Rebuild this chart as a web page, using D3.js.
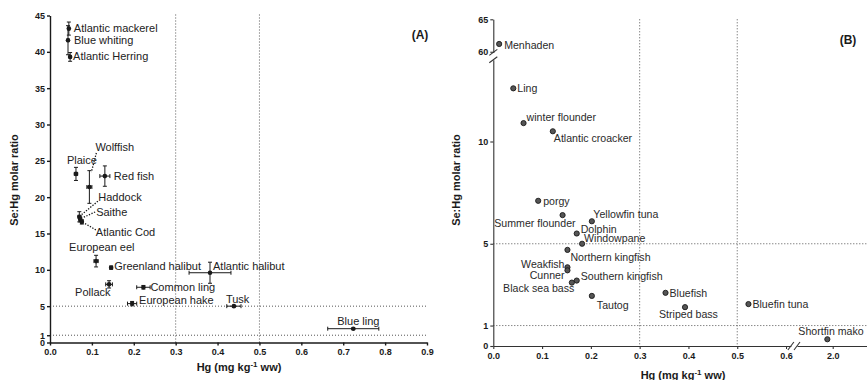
<!DOCTYPE html>
<html>
<head>
<meta charset="utf-8">
<script src="https://cdn.jsdelivr.net/npm/d3@7"></script>
<style>
  body { margin: 0; background: #fff; }
  text { font-family: "Liberation Sans", Arial, sans-serif; }
</style>
</head>
<body>
<svg id="chart" width="867" height="380"></svg>
<script>
// ---- Panel A: North-Atlantic fish, mean ± SD ----
const speciesA = ["Atlantic mackerel", "Blue whiting", "Atlantic Herring", "Plaice", "Wolffish", "Red fish",
  "Haddock", "Saithe", "Atlantic Cod", "European eel", "Greenland halibut", "Pollack", "Common ling",
  "European hake", "Atlantic halibut", "Tusk", "Blue ling"];
const hgA =      [0.045, 0.043, 0.048, 0.062, 0.094, 0.131, 0.070, 0.072, 0.076, 0.110, 0.146, 0.141, 0.223, 0.196, 0.382, 0.439, 0.724];
const hgErrA =   [0.002, 0.002, 0.002, 0.004, 0.006, 0.012, 0.003, 0.003, 0.003, 0.005, 0.003, 0.008, 0.016, 0.011, 0.050, 0.017, 0.061];
const ratioA =   [43.2, 41.6, 39.3, 23.2, 21.4, 22.9, 17.3, 17.0, 16.6, 11.2, 10.3, 8.0, 7.6, 5.35, 9.6, 5.0, 1.9];
const ratioErrA = [0.9, 2.0, 0.6, 0.9, 2.25, 1.4, 0.7, 0.4, 0.3, 0.8, 0.2, 0.5, 0.25, 0.3, 1.45, 0.1, 0.1];

// ---- Panel B: US East-coast fish, means ----
const speciesB = ["Menhaden", "Ling", "winter flounder", "Atlantic croacker", "porgy", "Summer flounder",
  "Yellowfin tuna", "Dolphin", "Windowpane", "Northern kingfish", "Weakfish", "Cunner", "Southern kingfish",
  "Black sea bass", "Tautog", "Bluefish", "Striped bass", "Bluefin tuna", "Shortfin mako"];
const hgB =    [0.012, 0.041, 0.062, 0.122, 0.092, 0.142, 0.202, 0.171, 0.182, 0.152, 0.152, 0.152, 0.171, 0.161, 0.202, 0.353, 0.393, 0.523, 1.94];
const ratioB = [61.2, 12.6, 10.9, 10.5, 7.1, 6.4, 6.1, 5.5, 5.0, 4.7, 3.85, 3.7, 3.2, 3.1, 2.45, 2.6, 1.9, 2.05, 0.33];

// ---- Axis ticks and reference lines ----
const xTicksA = [0, 0.1, 0.2, 0.3, 0.4, 0.5, 0.6, 0.7, 0.8, 0.9];
const yTicksA = [0, 1, 5, 10, 15, 20, 25, 30, 35, 40, 45];
const xTicksBLow = [0, 0.1, 0.2, 0.3, 0.4, 0.5, 0.6];
const xTicksBHigh = [2.0];
const yTicksBLow = [0, 1, 5, 10];
const yTicksBHigh = [60, 65];
const refHg = [0.3, 0.5];
const refRatio = [1, 5];

// Label placement (offset from the point, in px; anchor)
const labelPosA = {
  "Atlantic mackerel": [5, -1, "start"], "Blue whiting": [6, 0, "start"], "Atlantic Herring": [3, -1, "start"],
  "Plaice": [-9, -14, "start"], "Wolffish": [6, -40, "start"], "Red fish": [9, 0, "start"],
  "Haddock": [19, -19.5, "start"], "Saithe": [16, -7, "start"], "Atlantic Cod": [14, 10.5, "start"],
  "European eel": [-27, -14, "start"], "Greenland halibut": [3, -1.5, "start"], "Pollack": [-34, 8, "start"],
  "Common ling": [7, 0, "start"], "European hake": [7, -3.5, "start"], "Atlantic halibut": [3, -7, "start"],
  "Tusk": [-8, -7, "start"], "Blue ling": [-16, -8, "start"]
};
// Dotted leaders: [start dx, start dy, end dx, end dy] relative to the point
const leadersA = {
  "Wolffish": [7, -34, 2, -15], "Haddock": [18.5, -15.5, 2, -2],
  "Saithe": [15, -7, 2, -1], "Atlantic Cod": [14, 8, 2, 1]
};
const labelPosB = {
  "Menhaden": [5, 1, "start"], "Ling": [4, 0, "start"], "winter flounder": [3, -6, "start"],
  "Atlantic croacker": [1, 6.5, "start"], "porgy": [5, 0.5, "start"], "Summer flounder": [13, 8.5, "end"],
  "Yellowfin tuna": [1.5, -7, "start"], "Dolphin": [4, -4, "start"], "Windowpane": [2, -5.5, "start"],
  "Northern kingfish": [3, 7, "start"], "Weakfish": [-3, -3, "end"], "Cunner": [-3, 5, "end"],
  "Southern kingfish": [4, -4, "start"], "Black sea bass": [2.5, 6, "end"], "Tautog": [5, 9, "start"],
  "Bluefish": [4, 0, "start"], "Striped bass": [-26, 7, "start"], "Bluefin tuna": [4, 0.3, "start"],
  "Shortfin mako": [-29, -8, "start"]
};

const svg = d3.select("#chart");
const fmt = d3.format(".1f");
const dotted = "1,2";
const ink = "#1a1a1a";

function styleAxis(g, w) {
  g.select(".domain").attr("stroke", ink).attr("stroke-width", w);
  g.selectAll(".tick line").attr("stroke", ink).attr("stroke-width", w);
  g.selectAll(".tick text").attr("fill", ink).attr("font-size", 9).attr("font-weight", "bold")
    .attr("font-family", "'Liberation Sans', Arial, sans-serif");
}

function xTitle(g, cx, y) {
  const t = g.append("text").attr("x", cx).attr("y", y).attr("text-anchor", "middle")
    .attr("font-size", 11).attr("font-weight", "bold").attr("fill", ink);
  t.append("tspan").text("Hg (mg kg");
  t.append("tspan").attr("dy", -4).attr("font-size", 8).text("-1");
  t.append("tspan").attr("dy", 4).text(" ww)");
}
function yTitle(g, x, cy) {
  g.append("text").attr("transform", `translate(${x},${cy}) rotate(-90)`).attr("text-anchor", "middle")
    .attr("font-size", 11).attr("font-weight", "bold").attr("fill", ink).text("Se:Hg molar ratio");
}

// =============== Panel A ===============
const xA = d3.scaleLinear().domain([0, 0.9]).range([50, 427]);
const yA = d3.scaleLinear().domain([0, 45]).range([342.5, 15.5]);
const gA = svg.append("g");

// reference lines
gA.selectAll(".vref").data(refHg).join("line")
  .attr("x1", d => xA(d)).attr("x2", d => xA(d)).attr("y1", yA(45) - 1).attr("y2", yA(0))
  .attr("stroke", "#555").attr("stroke-dasharray", dotted).attr("stroke-width", 1);
gA.selectAll(".href").data(refRatio).join("line")
  .attr("x1", xA(0)).attr("x2", xA(0.9)).attr("y1", d => yA(d)).attr("y2", d => yA(d))
  .attr("stroke", "#555").attr("stroke-dasharray", dotted).attr("stroke-width", 1);

gA.append("g").attr("transform", `translate(0,${yA(0)})`)
  .call(d3.axisBottom(xA).tickValues(xTicksA).tickFormat(fmt).tickSize(3).tickSizeOuter(0).tickPadding(3))
  .call(g => styleAxis(g, 1.4));
gA.append("g").attr("transform", `translate(${xA(0)},0)`)
  .call(d3.axisLeft(yA).tickValues(yTicksA).tickFormat(d3.format("d")).tickSize(3).tickSizeOuter(0).tickPadding(2))
  .call(g => styleAxis(g, 1.4));

xTitle(gA, 239, 371);
yTitle(gA, 18, 180);
gA.append("text").attr("x", 420).attr("y", 39).attr("text-anchor", "middle")
  .attr("font-size", 12).attr("font-weight", "bold").attr("fill", ink).text("(A)");

const dataA = speciesA.map((s, i) => ({ s, hg: hgA[i], he: hgErrA[i], r: ratioA[i], re: ratioErrA[i] }));

// leaders
gA.selectAll(".leader").data(dataA.filter(d => leadersA[d.s])).join("line")
  .attr("x1", d => xA(d.hg) + leadersA[d.s][0]).attr("y1", d => yA(d.r) + leadersA[d.s][1])
  .attr("x2", d => xA(d.hg) + leadersA[d.s][2]).attr("y2", d => yA(d.r) + leadersA[d.s][3])
  .attr("stroke", "#111").attr("stroke-width", 1.3).attr("stroke-dasharray", "1.3,1.5");

// error bars
const eb = gA.selectAll(".eb").data(dataA).join("g").attr("stroke", ink).attr("stroke-width", 1);
eb.append("line").attr("x1", d => xA(d.hg)).attr("x2", d => xA(d.hg))
  .attr("y1", d => yA(d.r - d.re)).attr("y2", d => yA(d.r + d.re));
eb.append("line").attr("x1", d => xA(d.hg) - 2).attr("x2", d => xA(d.hg) + 2)
  .attr("y1", d => yA(d.r + d.re)).attr("y2", d => yA(d.r + d.re));
eb.append("line").attr("x1", d => xA(d.hg) - 2).attr("x2", d => xA(d.hg) + 2)
  .attr("y1", d => yA(d.r - d.re)).attr("y2", d => yA(d.r - d.re));
eb.append("line").attr("x1", d => xA(d.hg - d.he)).attr("x2", d => xA(d.hg + d.he))
  .attr("y1", d => yA(d.r)).attr("y2", d => yA(d.r));
eb.append("line").attr("x1", d => xA(d.hg - d.he)).attr("x2", d => xA(d.hg - d.he))
  .attr("y1", d => yA(d.r) - 2).attr("y2", d => yA(d.r) + 2);
eb.append("line").attr("x1", d => xA(d.hg + d.he)).attr("x2", d => xA(d.hg + d.he))
  .attr("y1", d => yA(d.r) - 2).attr("y2", d => yA(d.r) + 2);

gA.selectAll(".pt").data(dataA).join("circle")
  .attr("cx", d => xA(d.hg)).attr("cy", d => yA(d.r)).attr("r", 2.3).attr("fill", ink);

gA.selectAll(".lab").data(dataA).join("text")
  .attr("x", d => xA(d.hg) + labelPosA[d.s][0]).attr("y", d => yA(d.r) + labelPosA[d.s][1] + 4)
  .attr("text-anchor", d => labelPosA[d.s][2])
  .attr("font-size", 11).attr("fill", "#222").text(d => d.s);

// =============== Panel B ===============
const xBLow = d3.scaleLinear().domain([0, 0.61]).range([493.3, 790.9]);
const xBHigh = d3.scaleLinear().domain([1.6, 2.4]).range([797, 868.4]);
const yBLow = d3.scaleLinear().domain([0, 14]).range([346, 59.7]);
const yBHigh = d3.scaleLinear().domain([59.9, 65]).range([52.4, 19.3]);
const xB = v => v < 1 ? xBLow(v) : xBHigh(v);
const yB = v => v < 30 ? yBLow(v) : yBHigh(v);
const gB = svg.append("g");
const axB = "#333";

gB.selectAll(".vref").data(refHg).join("line")
  .attr("x1", d => xB(d)).attr("x2", d => xB(d)).attr("y1", yBHigh(65)).attr("y2", yBLow(0))
  .attr("stroke", "#555").attr("stroke-dasharray", dotted).attr("stroke-width", 1);
gB.selectAll(".href").data(refRatio).join("line")
  .attr("x1", xBLow(0)).attr("x2", 867).attr("y1", d => yB(d)).attr("y2", d => yB(d))
  .attr("stroke", "#555").attr("stroke-dasharray", dotted).attr("stroke-width", 1);

function styleAxisB(g) {
  styleAxis(g, 1.1);
  g.select(".domain").attr("stroke", axB);
  g.selectAll(".tick line").attr("stroke", axB);
}
gB.append("g").attr("transform", `translate(0,${yBLow(0)})`)
  .call(d3.axisBottom(xBLow).tickValues(xTicksBLow).tickFormat(fmt).tickSize(3).tickSizeOuter(0).tickPadding(4))
  .call(styleAxisB);
gB.append("g").attr("transform", `translate(0,${yBLow(0)})`)
  .call(d3.axisBottom(xBHigh).tickValues(xTicksBHigh).tickFormat(fmt).tickSize(3).tickSizeOuter(0).tickPadding(4))
  .call(styleAxisB);
gB.append("g").attr("transform", `translate(${xBLow(0)},0)`)
  .call(d3.axisLeft(yBLow).tickValues(yTicksBLow).tickFormat(d3.format("d")).tickSize(3).tickSizeOuter(0).tickPadding(2))
  .call(styleAxisB);
gB.append("g").attr("transform", `translate(${xBLow(0)},0)`)
  .call(d3.axisLeft(yBHigh).tickValues(yTicksBHigh).tickFormat(d3.format("d")).tickSize(3).tickSizeOuter(0).tickPadding(2))
  .call(styleAxisB);

// axis break marks
const slash = (x, y, horiz) => gB.append("line")
  .attr("x1", x - (horiz ? 3 : 4)).attr("y1", y + (horiz ? 4 : 3))
  .attr("x2", x + (horiz ? 3 : 4)).attr("y2", y - (horiz ? 4 : 3))
  .attr("stroke", axB).attr("stroke-width", 1.1);
slash(xBLow(0), yBHigh(59.9), false);
slash(xBLow(0), yBLow(14), false);
slash(xBLow(0.61), yBLow(0), true);
slash(xBHigh(1.6), yBLow(0), true);

xTitle(gB, 683, 379);
yTitle(gB, 460, 180);
gB.append("text").attr("x", 848).attr("y", 44).attr("text-anchor", "middle")
  .attr("font-size", 12).attr("font-weight", "bold").attr("fill", ink).text("(B)");

const dataB = speciesB.map((s, i) => ({ s, hg: hgB[i], r: ratioB[i] }));
gB.selectAll(".pt").data(dataB).join("circle")
  .attr("cx", d => xB(d.hg)).attr("cy", d => yB(d.r)).attr("r", 2.6)
  .attr("fill", "#555").attr("stroke", "#1a1a1a").attr("stroke-width", 0.9);
gB.selectAll(".lab").data(dataB).join("text")
  .attr("x", d => xB(d.hg) + labelPosB[d.s][0]).attr("y", d => yB(d.r) + labelPosB[d.s][1] + 3.8)
  .attr("text-anchor", d => labelPosB[d.s][2])
  .attr("font-size", 10.6).attr("fill", "#2a2a2a").text(d => d.s);
</script>
</body>
</html>
